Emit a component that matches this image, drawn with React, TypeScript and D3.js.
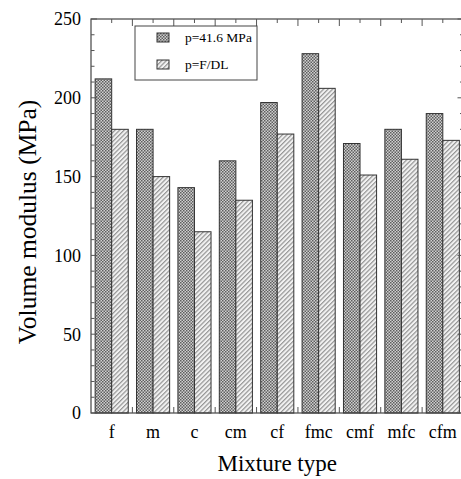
import React from "react";
import * as d3 from "d3";

// Mixture types on the x axis
const categories = ["f", "m", "c", "cm", "cf", "fmc", "cmf", "mfc", "cfm"];
// Volume modulus (MPa) at p = 41.6 MPa
const seriesHighP = [212, 180, 143, 160, 197, 228, 171, 180, 190];
// Volume modulus (MPa) at p = F/DL
const seriesFDL = [180, 150, 115, 135, 177, 206, 151, 161, 173];
const seriesNames = ["p=41.6 MPa", "p=F/DL"];
const yTicks = [0, 50, 100, 150, 200, 250];

const W = 461;
const H = 479;
const left = 91;
const right = 463.5;
const top = 19;
const bottom = 413;
const font = "'Liberation Serif', 'Times New Roman', serif";

export default function App() {
  const x = d3.scaleBand<string>().domain(categories).range([left, right]).paddingInner(0).paddingOuter(0);
  const inner = d3.scaleBand<number>().domain([0, 1]).range([0, x.bandwidth()]).paddingInner(0).paddingOuter(0.25);
  const y = d3.scaleLinear().domain([0, 250]).range([bottom, top]);
  const minorY = d3.range(0, 251, 10);

  const series = [seriesHighP, seriesFDL];
  const fills = ["url(#checker)", "url(#hatch)"];

  return (
    <svg
      width={W}
      height={H}
      style={{ position: "absolute", left: 0, top: 0, background: "#fff" }}
    >
      <defs>
        <pattern id="checker" width={3} height={3} patternUnits="userSpaceOnUse">
          <rect width={3} height={3} fill="#d0d0d0" />
          <rect x={0} y={0} width={1.5} height={1.5} fill="#5e5e5e" />
          <rect x={1.5} y={1.5} width={1.5} height={1.5} fill="#5e5e5e" />
        </pattern>
        <pattern
          id="hatch"
          width={3.2}
          height={3.2}
          patternUnits="userSpaceOnUse"
          patternTransform="rotate(45)"
        >
          <rect width={3.2} height={3.2} fill="#f2f2f2" />
          <rect x={0} y={0} width={1.2} height={3.2} fill="#959595" />
        </pattern>
      </defs>

      {/* bars */}
      {categories.map((c, i) => (
        <g key={c}>
          {series.map((s, k) => (
            <rect
              key={k}
              x={(x(c) as number) + (inner(k) as number)}
              y={y(s[i])}
              width={inner.bandwidth()}
              height={bottom - y(s[i])}
              fill={fills[k]}
              stroke="#333"
              strokeWidth={1}
            />
          ))}
        </g>
      ))}

      {/* frame */}
      <rect
        x={left}
        y={top}
        width={right - left}
        height={bottom - top}
        fill="none"
        stroke="#444"
        strokeWidth={1.2}
      />

      {/* y ticks, left and right, pointing inward */}
      {minorY.map((v) => {
        const major = v % 50 === 0;
        const len = major ? 6 : 3.5;
        return (
          <g key={v} stroke="#555" strokeWidth={1}>
            <line x1={left} x2={left + len} y1={y(v)} y2={y(v)} />
            <line x1={right - len} x2={right} y1={y(v)} y2={y(v)} />
          </g>
        );
      })}

      {/* x ticks: group boundaries (long) and centers (short) */}
      {categories.map((c, i) => {
        const x0 = x(c) as number;
        const xc = x0 + x.bandwidth() / 2;
        return (
          <g key={c} stroke="#555" strokeWidth={1}>
            <line x1={xc} x2={xc} y1={top} y2={top + 4} />
            {i > 0 && (
              <>
                <line x1={x0} x2={x0} y1={top} y2={top + 7} />
                <line x1={x0} x2={x0} y1={bottom} y2={bottom - 6} />
              </>
            )}
          </g>
        );
      })}

      {/* y tick labels */}
      {yTicks.map((v) => (
        <text
          key={v}
          x={left - 10}
          y={y(v)}
          dy="0.35em"
          textAnchor="end"
          fontFamily={font}
          fontSize={18}
          fill="#000"
        >
          {v}
        </text>
      ))}

      {/* x tick labels */}
      {categories.map((c) => (
        <text
          key={c}
          x={(x(c) as number) + x.bandwidth() / 2}
          y={438}
          textAnchor="middle"
          fontFamily={font}
          fontSize={18}
          fill="#000"
        >
          {c}
        </text>
      ))}

      {/* axis titles */}
      <text
        x={(left + right) / 2}
        y={471}
        textAnchor="middle"
        fontFamily={font}
        fontSize={23}
        fill="#000"
      >
        Mixture type
      </text>
      <text
        transform={`translate(36, ${(top + bottom) / 2 + 6}) rotate(-90)`}
        textAnchor="middle"
        fontFamily={font}
        fontSize={25.5}
        fill="#000"
      >
        Volume modulus (MPa)
      </text>

      {/* legend */}
      <g>
        <rect x={135} y={26} width={122} height={54} fill="#fff" stroke="#444" strokeWidth={1} />
        {seriesNames.map((name, k) => (
          <g key={name} transform={`translate(157, ${33 + k * 27})`}>
            <rect width={12} height={9} fill={fills[k]} stroke="#333" strokeWidth={1} />
            <text
              x={28}
              y={9}
              fontFamily={font}
              fontSize={13.5}
              fill="#000"
            >
              {name}
            </text>
          </g>
        ))}
      </g>
    </svg>
  );
}
